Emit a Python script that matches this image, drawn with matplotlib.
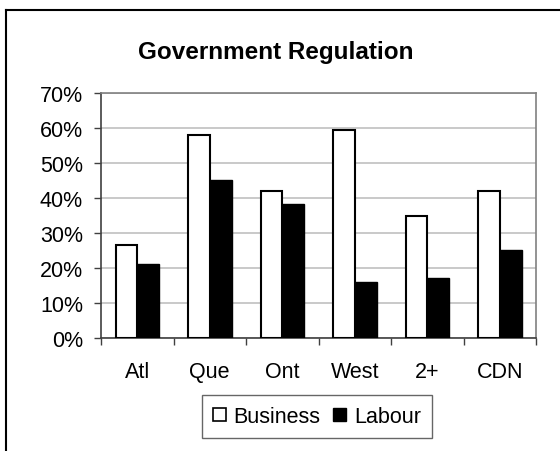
import matplotlib
matplotlib.use('Agg')
import numpy as np
import matplotlib.pyplot as plt
from matplotlib.lines import Line2D
from matplotlib.patches import Patch

regions = ['Atl', 'Que', 'Ont', 'West', '2+', 'CDN']
business = [26.7, 58.0, 42.0, 59.3, 34.9, 42.0]
labour = [21.1, 45.2, 38.3, 16.0, 17.1, 25.2]
y_ticks = [0, 10, 20, 30, 40, 50, 60, 70]

plt.rcParams['font.family'] = ['Liberation Sans', 'DejaVu Sans']

fig = plt.figure(figsize=(5.6, 4.52), dpi=100)
ax = fig.add_axes([101 / 560, 1 - 339.3 / 452, 435 / 560, 245.3 / 452])

x = np.arange(len(regions))
w = 0.3
ax.bar(x - w / 2, business, w, color='white', edgecolor='black', linewidth=1.5,
       label='Business', zorder=3)
ax.bar(x + w / 2, labour, w, color='black', edgecolor='black', linewidth=1.0,
       label='Labour', zorder=3)

ax.set_xlim(-0.5, len(regions) - 0.5)
ax.set_ylim(0, 70)
ax.set_yticks(y_ticks)
ax.set_yticklabels([f'{v}%' for v in y_ticks], fontsize=15.5)
ax.yaxis.grid(True, color='#c0c0c0', linewidth=1.2, zorder=0)
ax.set_axisbelow(True)

ax.set_xticks(x)
ax.set_xticklabels(regions, fontsize=15.5)
ax.set_xticks(np.arange(-0.5, len(regions), 1), minor=True)
ax.tick_params(axis='x', which='major', length=0, pad=16)
ax.tick_params(axis='x', which='minor', length=5, width=1, color='#404040')
ax.tick_params(axis='y', length=5, width=1, color='#404040', pad=8)

for s in ['top', 'right']:
    ax.spines[s].set_color('#808080')
    ax.spines[s].set_linewidth(1.2)
for s in ['left', 'bottom']:
    ax.spines[s].set_color('#404040')
    ax.spines[s].set_linewidth(1.2)

fig.text(276 / 560, 1 - 53 / 452, 'Government Regulation', fontsize=17.5,
         fontweight='bold', ha='center', va='center')

handles = [Patch(facecolor='white', edgecolor='black', linewidth=1.2, label='Business'),
           Patch(facecolor='black', edgecolor='black', label='Labour')]
leg = fig.legend(handles=handles, loc='center', ncol=2,
                 bbox_to_anchor=(317 / 560, 1 - 417.5 / 452), fontsize=15.5,
                 frameon=True, fancybox=False, handlelength=0.6, handleheight=0.6,
                 handletextpad=0.35, columnspacing=0.6, borderpad=0.5,
                 borderaxespad=0)
leg.get_frame().set_edgecolor('#404040')
leg.get_frame().set_linewidth(1.0)

# outer border of the chart area
fig.add_artist(Line2D([5.5 / 560, 5.5 / 560], [0, 1 - 10.5 / 452], color='black', linewidth=1.5))
fig.add_artist(Line2D([5.5 / 560, 1], [1 - 10.5 / 452, 1 - 10.5 / 452], color='black', linewidth=1.5))

fig.savefig('out.png', dpi=100)
